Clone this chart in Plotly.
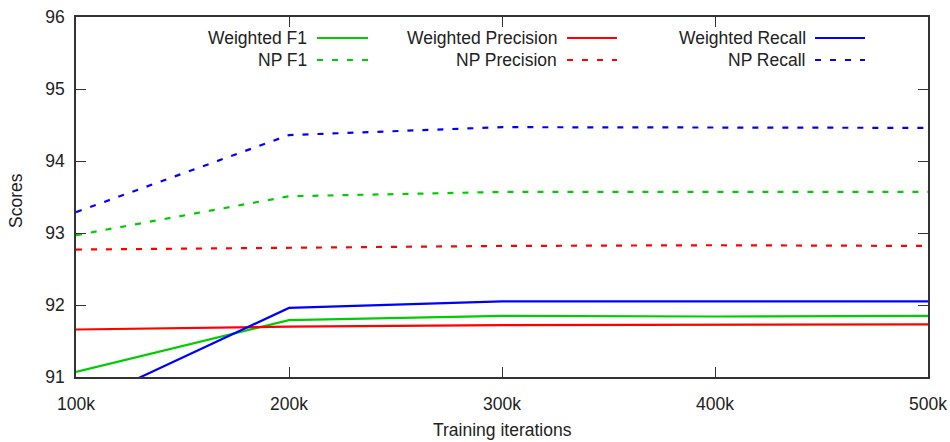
import plotly.graph_objects as go

iterations = [100000, 200000, 300000, 400000, 500000]
tick_labels = ["100k", "200k", "300k", "400k", "500k"]

weighted_f1 = [91.07, 91.79, 91.85, 91.84, 91.85]
weighted_precision = [91.66, 91.70, 91.72, 91.72, 91.73]
weighted_recall = [90.58, 91.96, 92.05, 92.05, 92.05]
np_f1 = [92.97, 93.51, 93.57, 93.57, 93.57]
np_precision = [92.77, 92.80, 92.82, 92.83, 92.82]
np_recall = [93.29, 94.36, 94.47, 94.47, 94.46]

GREEN = "#00cc00"
RED = "#ff0000"
BLUE = "#0000ff"
DASH = "6px,9px"
FONT = "Liberation Sans, Arial, sans-serif"
FS = 17.5

series = [
    ("Weighted F1", weighted_f1, GREEN, "solid"),
    ("NP F1", np_f1, GREEN, DASH),
    ("Weighted Precision", weighted_precision, RED, "solid"),
    ("NP Precision", np_precision, RED, DASH),
    ("Weighted Recall", weighted_recall, BLUE, "solid"),
    ("NP Recall", np_recall, BLUE, DASH),
]

fig = go.Figure()
for name, vals, color, dash in series:
    fig.add_trace(go.Scatter(x=iterations, y=vals, mode="lines", name=name,
                             line=dict(color=color, width=2.2, dash=dash),
                             showlegend=False))

W, H = 950, 442
L, R, T, B = 76, 22, 17, 65
PW, PH = W - L - R, H - T - B


def px_x(x):
    return (x - L) / PW


def px_y(y):
    return (H - y - B) / PH


# manual gnuplot-style legend: right aligned text, sample line to the right
legend_cols = [(307, 317, 368), (557, 567, 617), (806, 815, 865)]
legend_rows = [38, 60]
shapes = []
annotations = []
for i, (name, vals, color, dash) in enumerate(series):
    col = legend_cols[i // 2]
    ypix = legend_rows[i % 2]
    annotations.append(dict(xref="paper", yref="paper", x=px_x(col[0] + 2), y=px_y(ypix),
                            text=name, showarrow=False, xanchor="right", yanchor="middle",
                            font=dict(family=FONT, size=FS, color="#222")))
    shapes.append(dict(type="line", xref="paper", yref="paper",
                       x0=px_x(col[1]), x1=px_x(col[2]), y0=px_y(ypix), y1=px_y(ypix),
                       line=dict(color=color, width=2.2, dash=dash)))

# axis titles
annotations.append(dict(xref="paper", yref="paper", x=px_x(502), y=px_y(430),
                        text="Training iterations", showarrow=False,
                        xanchor="center", yanchor="middle",
                        font=dict(family=FONT, size=FS, color="#222")))
annotations.append(dict(xref="paper", yref="paper", x=px_x(16), y=px_y(201),
                        text="Scores", showarrow=False, textangle=-90,
                        xanchor="center", yanchor="middle",
                        font=dict(family=FONT, size=FS, color="#222")))

fig.update_layout(
    width=W, height=H,
    margin=dict(l=L, r=R, t=T, b=B, autoexpand=False),
    paper_bgcolor="white", plot_bgcolor="white",
    font=dict(family=FONT, size=FS, color="#222"),
    shapes=shapes, annotations=annotations,
    showlegend=False,
)
fig.update_xaxes(range=[100000, 500000], tickvals=iterations, ticktext=tick_labels,
                 showgrid=False, zeroline=False, showline=True, linecolor="#333", linewidth=1.5,
                 mirror="ticks", ticks="inside", ticklen=10, tickcolor="#333", tickwidth=1.2,
                 ticklabelstandoff=10, automargin=False)
fig.update_yaxes(range=[91, 96], dtick=1, showgrid=False, zeroline=False,
                 showline=True, linecolor="#333", linewidth=1.5,
                 mirror="ticks", ticks="inside", ticklen=10, tickcolor="#333", tickwidth=1.2,
                 ticklabelstandoff=6, automargin=False)

fig.write_html("out.html")
